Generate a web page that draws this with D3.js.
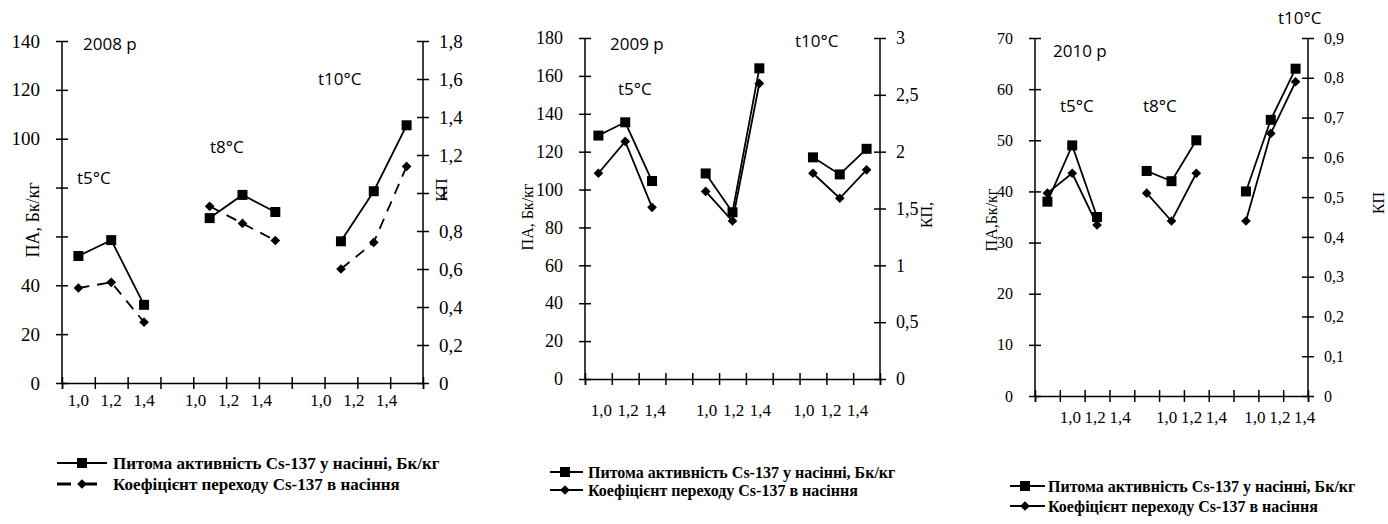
<!DOCTYPE html>
<meta charset="utf-8">
<style>
body { margin: 0; background: #fff; }
.axis path, .axis line { fill: none; stroke: #000; stroke-width: 1.5px; }
.axis text, .ttl { font-family: "Liberation Serif", "Times New Roman", serif; fill: #000; }
.note { font-family: "Open Sans", sans-serif; fill: #000; }
.leg { font-family: "Liberation Serif", "Times New Roman", serif; font-weight: bold; fill: #000; }
</style>
<body></body>
<script src="https://cdnjs.cloudflare.com/ajax/libs/d3/7.8.5/d3.min.js"></script>
<script>
// values, 3 groups (t5, t8, t10) x 3 points
var xLabels = ["1,0", "1,2", "1,4"];
var groups = ["t5°C", "t8°C", "t10°C"];

var pa2008 = [52, 58.5, 32, 67.5, 77, 70, 58, 78.5, 105.5];
var kp2008 = [0.50, 0.53, 0.32, 0.93, 0.84, 0.75, 0.60, 0.74, 1.14];
var pa2009 = [128.5, 135.5, 104.5, 108.5, 88, 164, 117, 108, 121.5];
var kp2009 = [1.81, 2.09, 1.51, 1.65, 1.39, 2.60, 1.81, 1.59, 1.84];
var pa2010 = [38, 49, 35, 44, 42, 50, 40, 54, 64];
var kp2010 = [0.51, 0.56, 0.43, 0.51, 0.44, 0.56, 0.44, 0.66, 0.79];

var legendPA = "Питома активність  Cs-137 у насінні, Бк/кг";
var legendKP = "Коефіцієнт переходу Cs-137 в насіння";

var svg = d3.select("body").append("svg")
    .attr("width", 1388)
    .attr("height", 524);

// panel layout
var panels = [
  {pa: pa2008, kp: kp2008, x0: 62, x1: 423, y0: 383, y1: 41,
   leftMax: 140, leftStep: 20, rightMax: 1.8, rightStep: 0.2, hideLeft: [60, 80],
   tickFont: 19, xFont: 17, xLabY: 400, shift: [0, -14, -20], dashed: true,
   yTitle: "ПА, Бк/кг", yTitleX: 33, yTitleY: 220, yTitleFont: 18,
   kpTitle: "КП", kpX: 441, kpY: 190, kpFont: 17,
   notes: [["2008 р", 83, 50], ["t5°C", 77, 184], ["t8°C", 210, 153], ["t10°C", 318, 85]],
   leg: {x0: 57, x1: 107, mx: 82, tx: 113, y: [463, 484], font: 17, kpLineEnd: 100}},
  {pa: pa2009, kp: kp2009, x0: 585, x1: 880, y0: 379, y1: 38,
   leftMax: 180, leftStep: 20, rightMax: 3, rightStep: 0.5, hideLeft: [],
   tickFont: 18, xFont: 17, xLabY: 410, shift: [3, 1, -9], dashed: false,
   yTitle: "ПА, Бк/кг", yTitleX: 527, yTitleY: 217, yTitleFont: 16,
   kpTitle: "КП,", kpX: 926, kpY: 215, kpFont: 16,
   notes: [["2009 р", 610, 50], ["t5°C", 618, 95], ["t10°C", 795, 47]],
   leg: {x0: 550, x1: 583, mx: 565, tx: 588, y: [472, 490], font: 16, kpLineEnd: 583}},
  {pa: pa2010, kp: kp2010, x0: 1035, x1: 1308, y0: 396, y1: 38,
   leftMax: 70, leftStep: 10, rightMax: 0.9, rightStep: 0.1, hideLeft: [],
   tickFont: 16, xFont: 17, xLabY: 417, shift: [23, 20, 9], dashed: false,
   yTitle: "ПА,Бк/кг", yTitleX: 991, yTitleY: 220, yTitleFont: 16,
   kpTitle: "КП", kpX: 1378, kpY: 203, kpFont: 16,
   notes: [["2010 р", 1053, 57], ["t5°C", 1060, 112], ["t8°C", 1143, 112], ["t10°C", 1278, 24]],
   leg: {x0: 1010, x1: 1045, mx: 1025, tx: 1048, y: [486, 506], font: 16, kpLineEnd: 1045}}
];

function fmt(d) { return String(+d.toFixed(2)).replace(".", ","); }

panels.forEach(function(p) {
  var g = svg.append("g");

  var x = d3.scaleBand().domain(d3.range(11)).range([p.x0, p.x1]);
  var yL = d3.scaleLinear().domain([0, p.leftMax]).range([p.y0, p.y1]);
  var yR = d3.scaleLinear().domain([0, p.rightMax]).range([p.y0, p.y1]);

  // slot index for each point: group*4 + i
  var slots = d3.range(9).map(function(k) { return Math.floor(k / 3) * 4 + k % 3; });
  var cx = function(k) { return x(slots[k]) + x.bandwidth() / 2; };

  // x axis (ticks at band edges, no labels)
  var xAx = g.append("g").attr("class", "axis")
      .attr("transform", "translate(0," + p.y0 + ")")
      .call(d3.axisBottom(d3.scaleLinear().domain([0, 11]).range([p.x0, p.x1]))
        .tickValues(d3.range(12)).tickSize(6).tickFormat(""));
  xAx.selectAll(".tick line").attr("y1", -6).attr("y2", 6);

  // x tick labels
  d3.range(9).forEach(function(k) {
    g.append("text").attr("class", "ttl")
      .attr("x", cx(k) + p.shift[Math.floor(k / 3)])
      .attr("y", p.xLabY + 6)
      .attr("text-anchor", "middle")
      .style("font-size", p.xFont + "px")
      .text(xLabels[k % 3]);
  });

  // left axis
  var lAx = g.append("g").attr("class", "axis")
      .attr("transform", "translate(" + p.x0 + ",0)")
      .call(d3.axisLeft(yL).tickValues(d3.range(0, p.leftMax + 0.001, p.leftStep))
        .tickSize(6).tickPadding(16).tickFormat(function(d) {
          return p.hideLeft.indexOf(d) >= 0 ? "" : fmt(d); }));
  lAx.attr("font-family", null);
  lAx.selectAll(".tick line").attr("x1", -6).attr("x2", 6);
  lAx.selectAll(".tick text").style("font-size", p.tickFont + "px");
  lAx.select(".domain").attr("d", "M0," + p.y0 + "V" + p.y1);

  // right axis
  var rVals = d3.range(0, Math.round(p.rightMax / p.rightStep) + 1).map(function(i) { return i * p.rightStep; });
  var rAx = g.append("g").attr("class", "axis")
      .attr("transform", "translate(" + p.x1 + ",0)")
      .call(d3.axisRight(yR).tickValues(rVals).tickSize(6).tickPadding(10).tickFormat(fmt));
  rAx.attr("font-family", null);
  rAx.selectAll(".tick line").attr("x1", -6).attr("x2", 6);
  rAx.selectAll(".tick text").style("font-size", p.tickFont + "px");
  rAx.select(".domain").attr("d", "M0," + p.y0 + "V" + p.y1);

  // lines per group
  var linePA = d3.line().x(cx).y(function(k) { return yL(p.pa[k]); });
  var lineKP = d3.line().x(cx).y(function(k) { return yR(p.kp[k]); });

  [0, 1, 2].forEach(function(gi) {
    var idx = [gi * 3, gi * 3 + 1, gi * 3 + 2];
    g.append("path").attr("d", linePA(idx))
      .attr("fill", "none").attr("stroke", "#000").attr("stroke-width", 1.8);
    g.append("path").attr("d", lineKP(idx))
      .attr("fill", "none").attr("stroke", "#000").attr("stroke-width", 1.8)
      .attr("stroke-dasharray", p.dashed ? "11,8" : null);
  });

  g.selectAll(".sq").data(d3.range(9)).enter().append("rect")
    .attr("x", function(k) { return cx(k) - 5; })
    .attr("y", function(k) { return yL(p.pa[k]) - 5; })
    .attr("width", 10).attr("height", 10).attr("fill", "#000");

  g.selectAll(".dm").data(d3.range(9)).enter().append("path")
    .attr("d", d3.symbol(d3.symbolDiamond2, 60))
    .attr("transform", function(k) { return "translate(" + cx(k) + "," + yR(p.kp[k]) + ")"; })
    .attr("fill", "#000");

  // axis titles
  g.append("text").attr("class", "ttl")
    .attr("transform", "translate(" + p.yTitleX + "," + p.yTitleY + ") rotate(-90)")
    .attr("text-anchor", "middle").attr("dy", "0.35em")
    .style("font-size", p.yTitleFont + "px").text(p.yTitle);
  g.append("text").attr("class", "ttl")
    .attr("transform", "translate(" + p.kpX + "," + p.kpY + ") rotate(-90)")
    .attr("text-anchor", "middle").attr("dy", "0.35em")
    .style("font-size", p.kpFont + "px").text(p.kpTitle);

  // notes
  p.notes.forEach(function(n) {
    g.append("text").attr("class", "note")
      .attr("x", n[1]).attr("y", n[2])
      .style("font-size", "17px").text(n[0]);
  });

  // legend
  var L = p.leg;
  g.append("line").attr("x1", L.x0).attr("x2", L.x1).attr("y1", L.y[0]).attr("y2", L.y[0])
    .attr("stroke", "#000").attr("stroke-width", 2);
  g.append("rect").attr("x", L.mx - 5).attr("y", L.y[0] - 5).attr("width", 10).attr("height", 10);
  g.append("text").attr("class", "leg").attr("x", L.tx).attr("y", L.y[0]).attr("dy", "0.35em")
    .style("font-size", L.font + "px").text(legendPA);

  g.append("line").attr("x1", L.x0).attr("x2", L.kpLineEnd).attr("y1", L.y[1]).attr("y2", L.y[1])
    .attr("stroke", "#000").attr("stroke-width", p.dashed ? 3 : 2)
    .attr("stroke-dasharray", p.dashed ? "14,12" : null);
  g.append("path").attr("d", d3.symbol(d3.symbolDiamond2, 60))
    .attr("transform", "translate(" + L.mx + "," + L.y[1] + ")");
  g.append("text").attr("class", "leg").attr("x", L.tx).attr("y", L.y[1]).attr("dy", "0.35em")
    .style("font-size", L.font + "px").text(legendKP);
});
</script>
